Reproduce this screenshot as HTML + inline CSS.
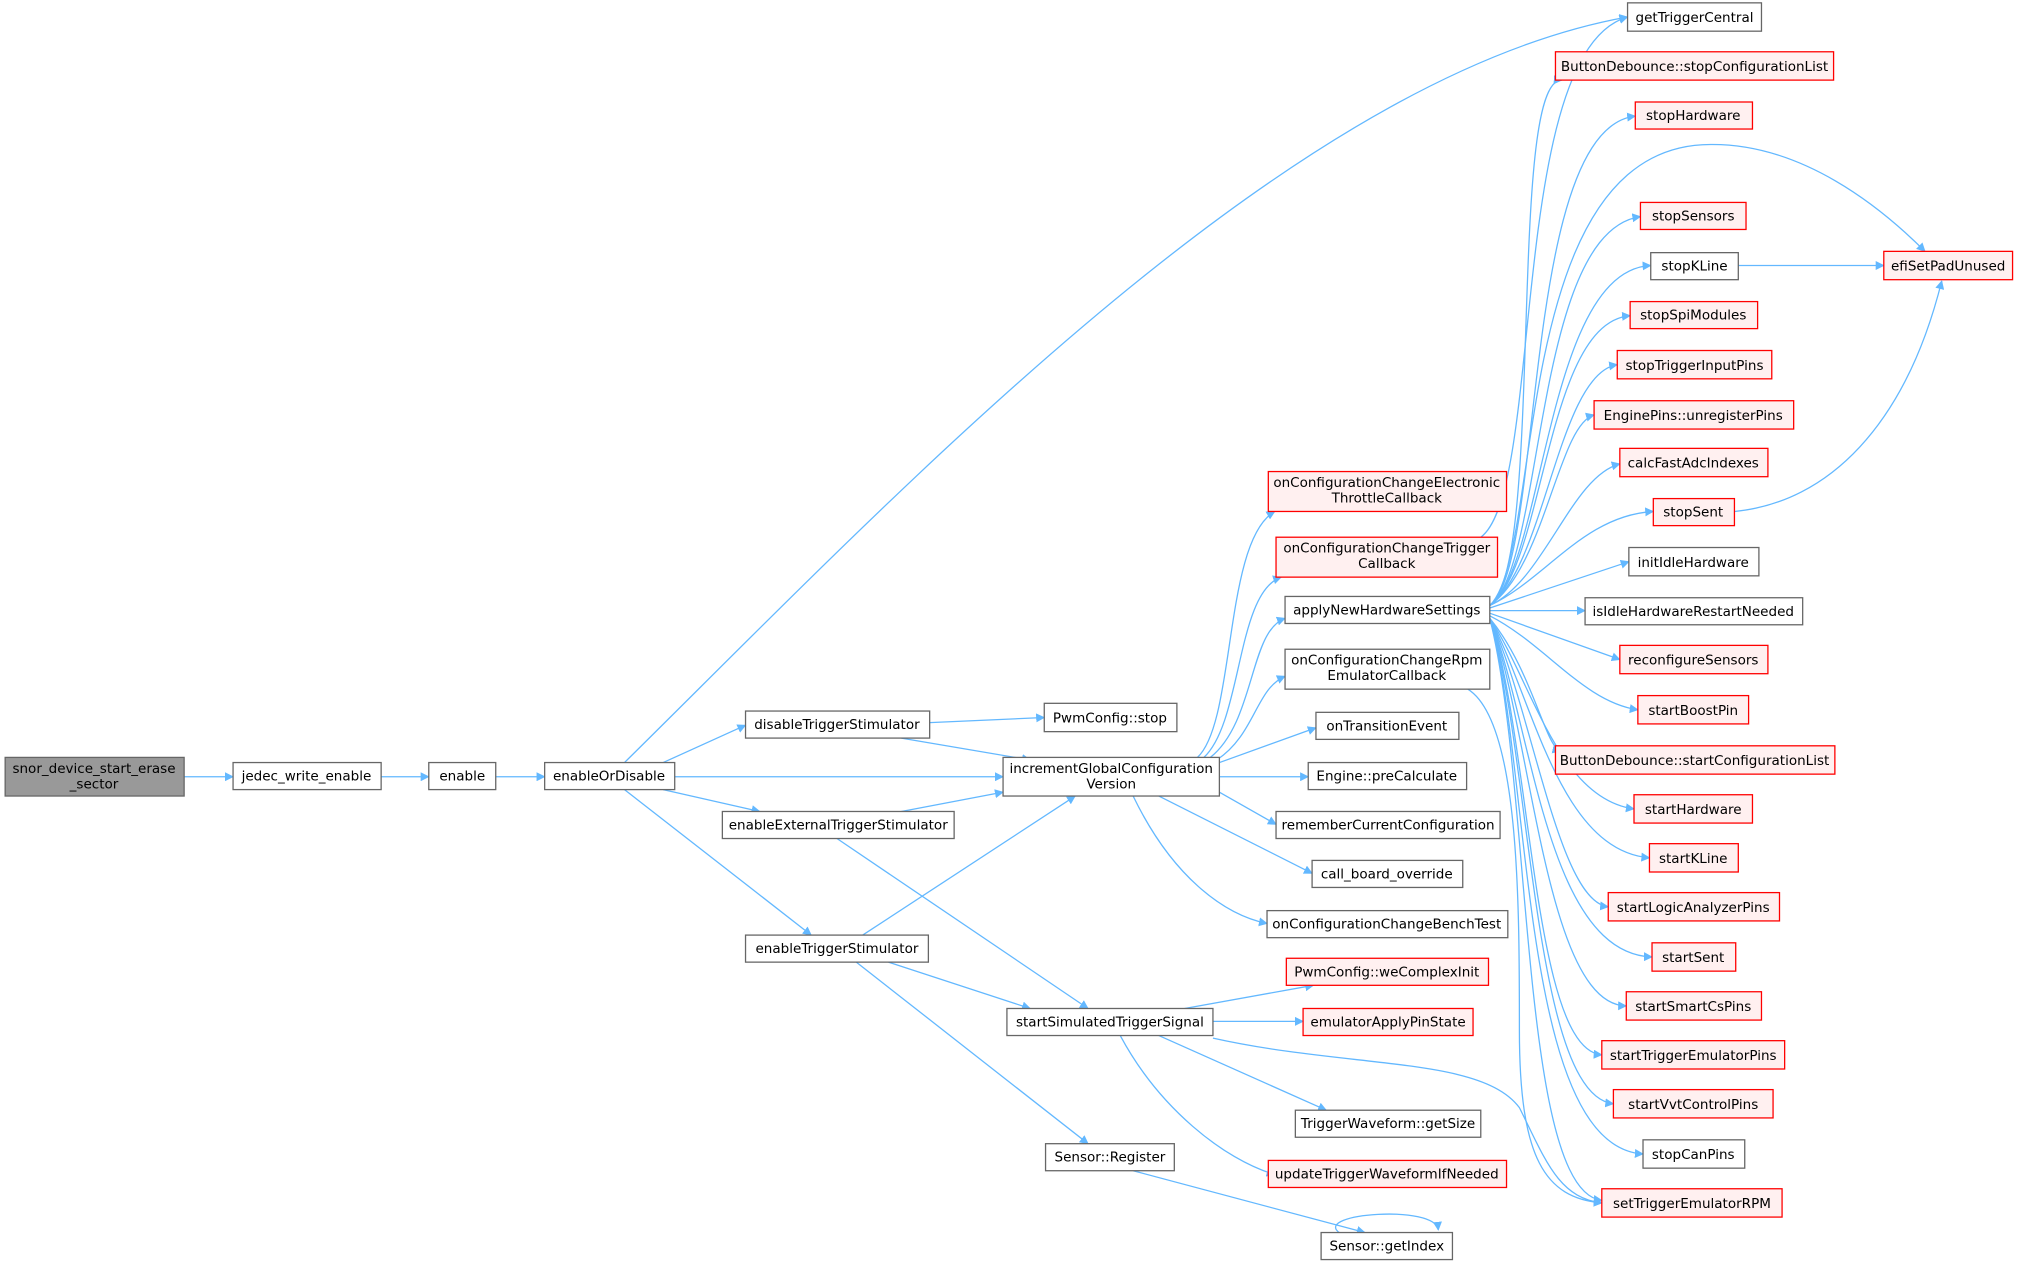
<!DOCTYPE html>
<html><head><meta charset="utf-8"><style>
html,body{margin:0;padding:0;background:#fff}
svg text{font-family:"DejaVu Sans","Liberation Sans",sans-serif;font-size:10.5px;fill:#000}
.n{fill:#fff;stroke:#666;stroke-width:1}
.r{fill:#fff0f0;stroke:#f00;stroke-width:1}
.g{fill:#999;stroke:#666;stroke-width:1}
.e{fill:none;stroke:#63b8ff;stroke-width:1;marker-end:url(#a)}
</style></head><body>
<svg width="2019" height="1265" viewBox="0 0 1568 982" xmlns="http://www.w3.org/2000/svg">
<defs><marker id="a" viewBox="0 0 10 10" refX="9" refY="5" markerWidth="7" markerHeight="7" markerUnits="userSpaceOnUse" orient="auto"><path d="M0,0L10,5L0,10z" fill="#63b8ff"/></marker></defs>
<g>
<path class="e" d="M143,603H181"/>
<path class="e" d="M296,603H333"/>
<path class="e" d="M385,603H423"/>
<path class="e" d="M485,592C700,380 1000,60 1264,13"/>
<path class="e" d="M515,592L579,563"/>
<path class="e" d="M524,603H779"/>
<path class="e" d="M515,613L590,630"/>
<path class="e" d="M485,613L630,726"/>
<path class="e" d="M722,561L811,557"/>
<path class="e" d="M700,573L800,590"/>
<path class="e" d="M700,630L779,615"/>
<path class="e" d="M650,651L845,783"/>
<path class="e" d="M670,726L835,618"/>
<path class="e" d="M690,747L800,783"/>
<path class="e" d="M665,747L845,888"/>
<path class="e" d="M930,588C960,560 950,420 990,397"/>
<path class="e" d="M935,588C965,560 960,460 995,448"/>
<path class="e" d="M940,588C975,560 970,490 998,480"/>
<path class="e" d="M945,590C975,570 975,535 998,525"/>
<path class="e" d="M947,592L1022,565"/>
<path class="e" d="M947,603H1016"/>
<path class="e" d="M947,615L991,640"/>
<path class="e" d="M900,618L1019,678"/>
<path class="e" d="M880,618C910,680 950,710 984,717"/>
<path class="e" d="M920,783L1020,765"/>
<path class="e" d="M942,793H1012"/>
<path class="e" d="M900,804L1030,862"/>
<path class="e" d="M870,804C900,860 950,900 990,912"/>
<path class="e" d="M942,806C1050,830 1150,820 1180,860C1200,900 1210,930 1244,934"/>
<path class="e" d="M1140,535C1180,560 1180,700 1180,800C1180,900 1200,930 1244,934"/>
<path class="e" d="M1150,417C1200,380 1170,40 1264,13"/>
<path class="e" d="M880,909L1060,957"/>
<path class="e" d="M1040,957C1020,942 1115,935 1117,955"/>
<path class="e" d="M1350,206H1463"/>
<path class="e" d="M1347,397C1420,390 1480,330 1508,218"/>
<g>
<path class="e" d="M1157,470C1200,440 1170,60 1213,62"/>
<path class="e" d="M1157,470C1200,440 1180,100 1270,90"/>
<path class="e" d="M1157,470C1200,430 1170,110 1330,112C1400,112 1460,160 1495,195"/>
<path class="e" d="M1157,470C1200,440 1190,180 1274,168"/>
<path class="e" d="M1157,470C1200,440 1200,210 1282,206"/>
<path class="e" d="M1157,470C1200,440 1200,250 1266,245"/>
<path class="e" d="M1157,470C1200,440 1210,290 1256,283"/>
<path class="e" d="M1157,470C1200,440 1210,330 1238,322"/>
<path class="e" d="M1157,470C1200,450 1220,370 1258,360"/>
<path class="e" d="M1157,470C1200,450 1230,400 1284,397"/>
<path class="e" d="M1157,472L1265,436"/>
<path class="e" d="M1157,474H1231"/>
<path class="e" d="M1157,476L1258,512"/>
<path class="e" d="M1157,478C1200,500 1230,545 1272,551"/>
<path class="e" d="M1157,480C1190,520 1200,580 1212,583"/>
<path class="e" d="M1157,480C1190,530 1210,620 1269,628"/>
<path class="e" d="M1157,480C1190,540 1210,660 1281,666"/>
<path class="e" d="M1157,480C1190,550 1210,700 1249,704"/>
<path class="e" d="M1157,480C1190,560 1200,740 1283,743"/>
<path class="e" d="M1157,480C1190,570 1200,780 1263,781"/>
<path class="e" d="M1157,480C1190,580 1190,815 1244,819"/>
<path class="e" d="M1157,480C1190,590 1190,850 1253,857"/>
<path class="e" d="M1157,480C1190,600 1180,890 1276,896"/>
<path class="e" d="M1157,480C1190,610 1180,925 1244,932"/>
</g>
</g>
<g>
<rect class="g" x="4" y="588" width="139" height="30"/><text x="73" y="600" text-anchor="middle">snor_device_start_erase</text><text x="73" y="612" text-anchor="middle">_sector</text>
<rect class="n" x="181" y="592" width="115" height="21"/><text x="238" y="606" text-anchor="middle">jedec_write_enable</text>
<rect class="n" x="333" y="592" width="52" height="21"/><text x="359" y="606" text-anchor="middle">enable</text>
<rect class="n" x="423" y="592" width="101" height="21"/><text x="473" y="606" text-anchor="middle">enableOrDisable</text>
<rect class="n" x="579" y="552" width="143" height="21"/><text x="650" y="566" text-anchor="middle">disableTriggerStimulator</text>
<rect class="n" x="561" y="630" width="180" height="21"/><text x="651" y="644" text-anchor="middle">enableExternalTriggerStimulator</text>
<rect class="n" x="579" y="726" width="142" height="21"/><text x="650" y="740" text-anchor="middle">enableTriggerStimulator</text>
<rect class="n" x="779" y="588" width="168" height="30"/><text x="863" y="600" text-anchor="middle">incrementGlobalConfiguration</text><text x="863" y="612" text-anchor="middle">Version</text>
<rect class="n" x="811" y="546" width="103" height="22"/><text x="862" y="561" text-anchor="middle">PwmConfig::stop</text>
<rect class="n" x="782" y="783" width="160" height="21"/><text x="862" y="797" text-anchor="middle">startSimulatedTriggerSignal</text>
<rect class="n" x="812" y="888" width="100" height="21"/><text x="862" y="902" text-anchor="middle">Sensor::Register</text>
<rect class="r" x="985" y="366" width="185" height="31"/><text x="1077" y="378" text-anchor="middle">onConfigurationChangeElectronic</text><text x="1077" y="390" text-anchor="middle">ThrottleCallback</text>
<rect class="r" x="991" y="417" width="172" height="31"/><text x="1077" y="429" text-anchor="middle">onConfigurationChangeTrigger</text><text x="1077" y="441" text-anchor="middle">Callback</text>
<rect class="n" x="998" y="463" width="159" height="21"/><text x="1077" y="477" text-anchor="middle">applyNewHardwareSettings</text>
<rect class="n" x="998" y="504" width="159" height="31"/><text x="1077" y="516" text-anchor="middle">onConfigurationChangeRpm</text><text x="1077" y="528" text-anchor="middle">EmulatorCallback</text>
<rect class="n" x="1022" y="553" width="111" height="21"/><text x="1077" y="567" text-anchor="middle">onTransitionEvent</text>
<rect class="n" x="1016" y="592" width="123" height="21"/><text x="1077" y="606" text-anchor="middle">Engine::preCalculate</text>
<rect class="n" x="991" y="630" width="174" height="21"/><text x="1078" y="644" text-anchor="middle">rememberCurrentConfiguration</text>
<rect class="n" x="1019" y="668" width="117" height="21"/><text x="1077" y="682" text-anchor="middle">call_board_override</text>
<rect class="n" x="984" y="707" width="187" height="21"/><text x="1077" y="721" text-anchor="middle">onConfigurationChangeBenchTest</text>
<rect class="r" x="999" y="744" width="157" height="21"/><text x="1077" y="758" text-anchor="middle">PwmConfig::weComplexInit</text>
<rect class="r" x="1012" y="783" width="132" height="21"/><text x="1078" y="797" text-anchor="middle">emulatorApplyPinState</text>
<rect class="n" x="1006" y="862" width="144" height="21"/><text x="1078" y="876" text-anchor="middle">TriggerWaveform::getSize</text>
<rect class="r" x="985" y="901" width="185" height="21"/><text x="1077" y="915" text-anchor="middle">updateTriggerWaveformIfNeeded</text>
<rect class="n" x="1026" y="957" width="102" height="21"/><text x="1077" y="971" text-anchor="middle">Sensor::getIndex</text>
<rect class="n" x="1264" y="2" width="104" height="22"/><text x="1316" y="17" text-anchor="middle">getTriggerCentral</text>
<rect class="r" x="1208" y="40" width="216" height="22"/><text x="1316" y="55" text-anchor="middle">ButtonDebounce::stopConfigurationList</text>
<rect class="r" x="1270" y="79" width="91" height="21"/><text x="1315" y="93" text-anchor="middle">stopHardware</text>
<rect class="r" x="1274" y="157" width="82" height="21"/><text x="1315" y="171" text-anchor="middle">stopSensors</text>
<rect class="n" x="1282" y="196" width="68" height="21"/><text x="1316" y="210" text-anchor="middle">stopKLine</text>
<rect class="r" x="1266" y="234" width="99" height="21"/><text x="1315" y="248" text-anchor="middle">stopSpiModules</text>
<rect class="r" x="1256" y="272" width="120" height="22"/><text x="1316" y="287" text-anchor="middle">stopTriggerInputPins</text>
<rect class="r" x="1238" y="311" width="155" height="22"/><text x="1315" y="326" text-anchor="middle">EnginePins::unregisterPins</text>
<rect class="r" x="1258" y="348" width="115" height="22"/><text x="1315" y="363" text-anchor="middle">calcFastAdcIndexes</text>
<rect class="r" x="1284" y="387" width="63" height="21"/><text x="1315" y="401" text-anchor="middle">stopSent</text>
<rect class="n" x="1265" y="425" width="101" height="22"/><text x="1315" y="440" text-anchor="middle">initIdleHardware</text>
<rect class="n" x="1231" y="464" width="169" height="21"/><text x="1315" y="478" text-anchor="middle">isIdleHardwareRestartNeeded</text>
<rect class="r" x="1258" y="501" width="115" height="22"/><text x="1315" y="516" text-anchor="middle">reconfigureSensors</text>
<rect class="r" x="1272" y="540" width="86" height="22"/><text x="1315" y="555" text-anchor="middle">startBoostPin</text>
<rect class="r" x="1208" y="579" width="217" height="22"/><text x="1316" y="594" text-anchor="middle">ButtonDebounce::startConfigurationList</text>
<rect class="r" x="1269" y="617" width="92" height="22"/><text x="1315" y="632" text-anchor="middle">startHardware</text>
<rect class="r" x="1281" y="655" width="69" height="22"/><text x="1315" y="670" text-anchor="middle">startKLine</text>
<rect class="r" x="1249" y="693" width="133" height="22"/><text x="1315" y="708" text-anchor="middle">startLogicAnalyzerPins</text>
<rect class="r" x="1283" y="732" width="65" height="22"/><text x="1315" y="747" text-anchor="middle">startSent</text>
<rect class="r" x="1263" y="770" width="105" height="22"/><text x="1315" y="785" text-anchor="middle">startSmartCsPins</text>
<rect class="r" x="1244" y="808" width="142" height="22"/><text x="1315" y="823" text-anchor="middle">startTriggerEmulatorPins</text>
<rect class="r" x="1253" y="846" width="124" height="22"/><text x="1315" y="861" text-anchor="middle">startVvtControlPins</text>
<rect class="n" x="1276" y="885" width="79" height="22"/><text x="1315" y="900" text-anchor="middle">stopCanPins</text>
<rect class="r" x="1244" y="923" width="140" height="22"/><text x="1314" y="938" text-anchor="middle">setTriggerEmulatorRPM</text>
<rect class="r" x="1463" y="195" width="100" height="22"/><text x="1513" y="210" text-anchor="middle">efiSetPadUnused</text>
</g>
</svg>
</body></html>
